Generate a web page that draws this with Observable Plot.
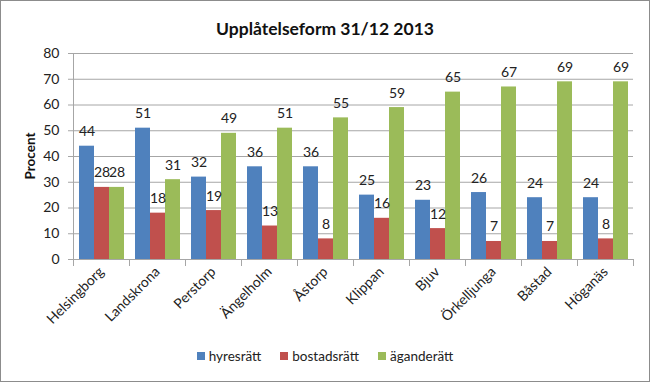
<!DOCTYPE html>
<html><head><meta charset="utf-8">
<script src="https://cdn.jsdelivr.net/npm/d3@7"></script>
<script src="https://cdn.jsdelivr.net/npm/@observablehq/plot@0.6"></script>
<style>
html,body{margin:0;padding:0;background:#fff;}
#wrap{position:relative;width:650px;height:382px;overflow:hidden;font-family:Lato,sans-serif;color:#222;}
#chart{position:absolute;left:0;top:0;}
#border{position:absolute;left:0;top:0;width:650px;height:382px;box-sizing:border-box;border:1px solid #8c8c8c;pointer-events:none;}
#title{position:absolute;left:0;width:650px;top:18px;text-align:center;font-weight:bold;font-size:17.5px;line-height:22px;color:#111;}
#ylabel{position:absolute;left:30px;top:156px;transform:translate(-50%,-50%) rotate(-90deg);font-weight:bold;font-size:13.5px;white-space:nowrap;color:#111;}
#legend{position:absolute;top:347px;left:0;width:650px;display:flex;justify-content:center;gap:19px;font-size:13.5px;line-height:18px;}
#legend .item{display:flex;align-items:center;}
#legend .sw{width:8px;height:8px;margin-right:4px;}
</style>
</head><body>
<div id="wrap">
  <div id="chart"></div>
  <div id="title"></div>
  <div id="ylabel"></div>
  <div id="legend"></div>
  <div id="border"></div>
</div>
<script>
const titleText = "Upplåtelseform 31/12 2013";
const yLabel = "Procent";
const categories = ["Helsingborg","Landskrona","Perstorp","Ängelholm","Åstorp","Klippan","Bjuv","Örkelljunga","Båstad","Höganäs"];
const series = ["hyresrätt","bostadsrätt","äganderätt"];
const hyresratt   = [44,51,32,36,36,25,23,26,24,24];
const bostadsratt = [28,18,19,13, 8,16,12, 7, 7, 8];
const aganderatt  = [28,31,49,51,55,59,65,67,69,69];
const colors = ["#4F81BD","#C0504D","#9BBB59"];
const yTicks = [0,10,20,30,40,50,60,70,80];

const values = [hyresratt, bostadsratt, aganderatt];
const data = categories.flatMap((c, i) => series.map((s, j) => ({category: c, series: s, value: values[j][i]})));

const axisGray = "#a6a6a6";
const textColor = "#222";

function edgeTick(anchor) {
  return Plot.frame({
    anchor, stroke: axisGray, strokeOpacity: 1,
    render(index, scales, vals, dims, context, next) {
      const el = next(index, scales, vals, dims, context);
      const line = el.tagName && el.tagName.toLowerCase() === "line" ? el : el.querySelector("line");
      const y0 = dims.height - dims.marginBottom;
      line.setAttribute("y1", y0);
      line.setAttribute("y2", y0 + 6);
      return el;
    }
  });
}

const chart = Plot.plot({
  width: 650, height: 382,
  marginTop: 53, marginBottom: 123, marginLeft: 72, marginRight: 17,
  style: {fontFamily: "Lato, sans-serif", fontSize: "14px", color: textColor, background: "transparent"},
  fx: {domain: categories, padding: 0, label: null},
  x: {domain: series, paddingInner: 0, paddingOuter: 0.36, axis: null},
  y: {domain: [0, 80], label: null},
  color: {domain: series, range: colors},
  marks: [
    Plot.gridY(yTicks, {stroke: axisGray, strokeOpacity: 1}),
    Plot.axisY(yTicks, {tickSize: 5, tickPadding: 9, stroke: axisGray, fill: textColor, label: null, fontSize: 14}),
    Plot.barY(data, {fx: "category", x: "series", y: "value", fill: "series"}),
    Plot.ruleY([0], {stroke: axisGray}),
    Plot.frame({anchor: "left", facet: "super", stroke: axisGray, strokeOpacity: 1}),
    edgeTick("left"),
    edgeTick("right"),
    Plot.text(data, {fx: "category", x: "series", y: "value", text: d => String(d.value), lineAnchor: "bottom", dy: -10, fill: textColor, fontSize: 14}),
    Plot.axisFx({anchor: "bottom", tickRotate: -45, tickSize: 0, tickPadding: 10, label: null, fontSize: 14, fill: textColor})
  ]
});
document.getElementById("chart").appendChild(chart);
document.getElementById("title").textContent = titleText;
document.getElementById("ylabel").textContent = yLabel;
const legend = document.getElementById("legend");
series.forEach((s, j) => {
  const it = document.createElement("div"); it.className = "item";
  const sw = document.createElement("span"); sw.className = "sw"; sw.style.background = colors[j];
  const tx = document.createElement("span"); tx.textContent = s;
  it.appendChild(sw); it.appendChild(tx); legend.appendChild(it);
});
</script>
</body></html>
